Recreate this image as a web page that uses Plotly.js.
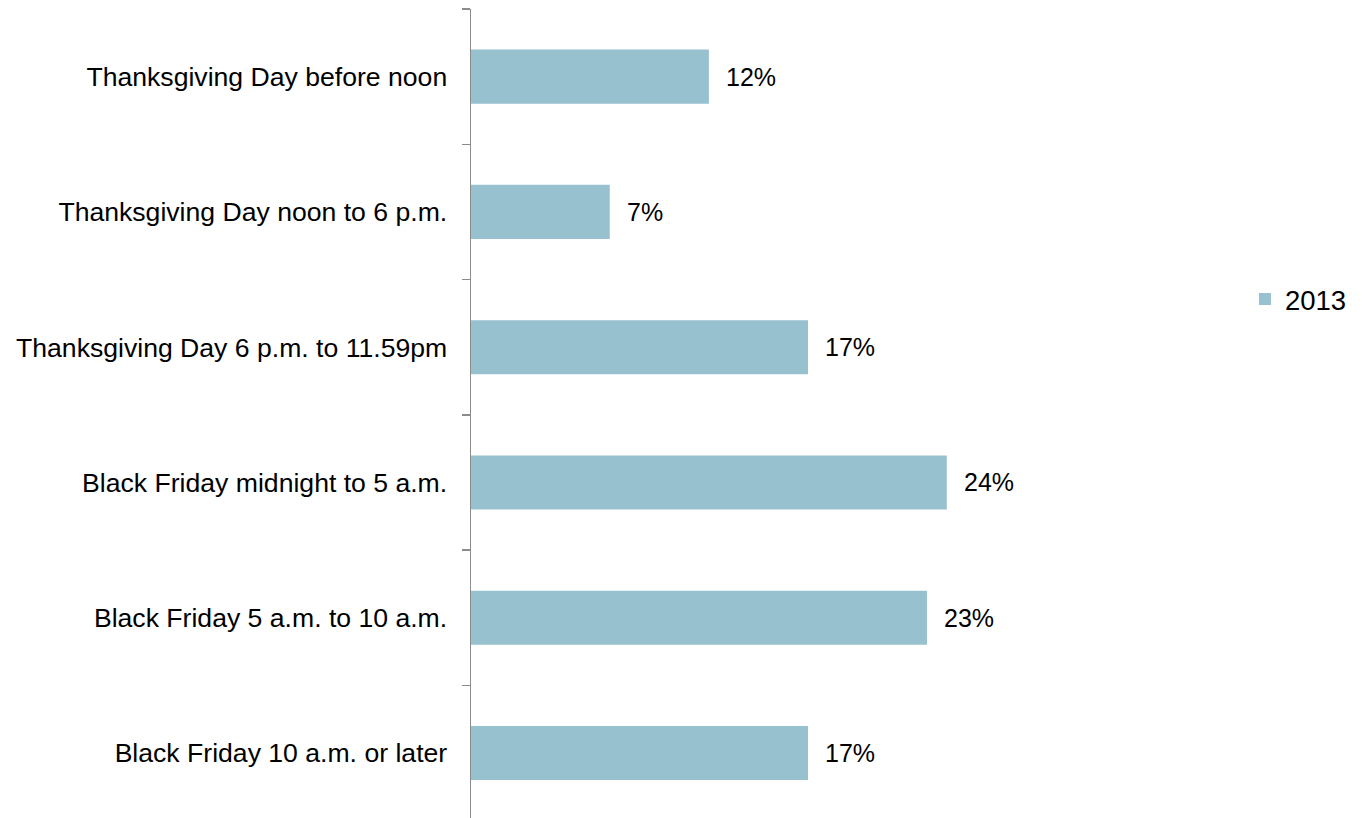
<!DOCTYPE html>
<html>
<head>
<meta charset="utf-8">
<script src="https://cdn.plot.ly/plotly-3.0.1.min.js"></script>
<style>html,body{margin:0;padding:0;background:#fff;}#chart{width:1362px;height:818px;}</style>
</head>
<body>
<div id="chart"></div>
<script>
var categories = [
  "Thanksgiving Day before noon",
  "Thanksgiving Day noon to 6 p.m.",
  "Thanksgiving Day 6 p.m. to 11.59pm",
  "Black Friday midnight to 5 a.m.",
  "Black Friday 5 a.m. to 10 a.m.",
  "Black Friday 10 a.m. or later"
];
var values2013 = [12, 7, 17, 24, 23, 17];
var seriesName = "2013";

var font = "Liberation Sans, Arial, sans-serif";
var trace = {
  type: "bar",
  orientation: "h",
  name: seriesName,
  y: categories,
  x: values2013,
  marker: {color: "#98C1CF"},
  hoverinfo: "none"
};
var annotations = values2013.map(function(v, i){
  return {x: v, y: categories[i], xref: "x", yref: "y", text: v + "%",
          showarrow: false, xanchor: "left", xshift: 15,
          font: {family: font, size: 25, color: "#000"}};
});
var layout = {
  width: 1362, height: 818,
  margin: {l: 471, r: 98, t: 9, b: 0},
  paper_bgcolor: "#fff", plot_bgcolor: "#fff",
  bargap: 0.6,
  showlegend: true,
  legend: {x: 0.976, xanchor: "left", y: 0.6415, yanchor: "middle",
           font: {family: font, size: 27.5, color: "#000"}, bgcolor: "rgba(0,0,0,0)"},
  xaxis: {range: [0, 40], visible: false, showgrid: false, zeroline: false, fixedrange: true},
  yaxis: {type: "category", range: [5.48, -0.5], showline: true, linecolor: "#8C8C8C", linewidth: 1.5,
          ticks: "outside", tickson: "boundaries", ticklen: 8, tickcolor: "#8C8C8C", tickwidth: 1.5,
          showgrid: false, zeroline: false, ticklabelstandoff: 17,
          tickfont: {family: font, size: 26.6, color: "#000"}},
  annotations: annotations
};
Plotly.newPlot("chart", [trace], layout, {displayModeBar: false, staticPlot: true});
</script>
</body>
</html>
